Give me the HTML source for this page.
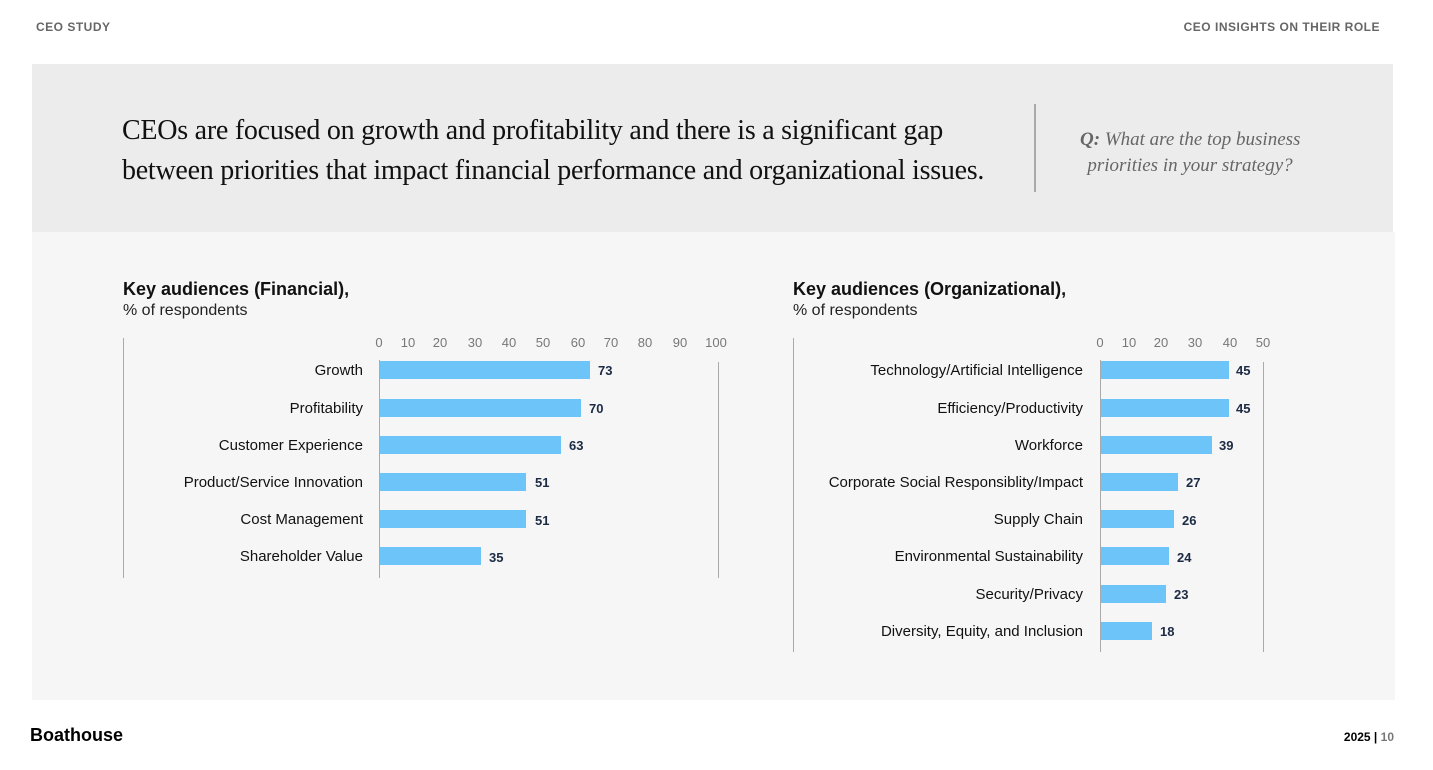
<!DOCTYPE html>
<html><head><meta charset="utf-8"><style>
*{margin:0;padding:0;box-sizing:border-box}
body{width:1433px;height:770px;background:#fff;position:relative;overflow:hidden;font-family:"Liberation Sans",sans-serif;color:#111}
.a{position:absolute;white-space:nowrap}
.hdr{font-size:12px;font-weight:bold;color:#666;letter-spacing:0.5px;top:20px}
.serif{font-family:"Liberation Serif",serif}
.lab{font-size:15px;color:#111;text-align:right}
.tick{font-size:13px;color:#777;transform:translateX(-50%)}
.bar{position:absolute;height:18px;background:#6cc4f8}
.val{font-size:13px;font-weight:bold;color:#1c2a44}
.vl{position:absolute;width:1px;background:#aaa}
</style></head><body>
<div class="a hdr" style="left:36px">CEO STUDY</div>
<div class="a hdr" style="right:53px">CEO INSIGHTS ON THEIR ROLE</div>
<div class="a" style="left:32px;top:64px;width:1361px;height:168px;background:#ececec"></div>
<div class="a" style="left:32px;top:232px;width:1363px;height:468px;background:#f6f6f6"></div>
<div class="a serif" style="left:122px;top:111px;font-size:28px;line-height:40px;color:#111;letter-spacing:-0.25px">CEOs are focused on growth and profitability and there is a significant gap<br>between priorities that impact financial performance and organizational issues.</div>
<div class="vl" style="left:1034px;top:104px;height:88px;width:2px;background:#aaa"></div>
<div class="a serif" style="left:1080px;top:127px;font-size:19px;line-height:26px;color:#666;font-style:italic;text-align:center;width:220px"><b>Q:</b> What are the top business<br>priorities in your strategy?</div>

<div class="a" style="left:123px;top:279px;font-size:18px;font-weight:bold">Key audiences (Financial),</div>
<div class="a" style="left:123px;top:302px;font-size:16px;color:#222">% of respondents</div>
<div class="a" style="left:793px;top:279px;font-size:18px;font-weight:bold">Key audiences (Organizational),</div>
<div class="a" style="left:793px;top:302px;font-size:16px;color:#222">% of respondents</div>

<div class="vl" style="left:123px;top:338px;height:240px"></div>
<div class="vl" style="left:379px;top:360px;height:218px"></div>
<div class="vl" style="left:718px;top:362px;height:216px"></div>
<div class="vl" style="left:793px;top:338px;height:314px"></div>
<div class="vl" style="left:1100px;top:360px;height:292px"></div>
<div class="vl" style="left:1263px;top:362px;height:290px"></div>

<div class="a tick" style="left:379px;top:335px">0</div>
<div class="a tick" style="left:408px;top:335px">10</div>
<div class="a tick" style="left:440px;top:335px">20</div>
<div class="a tick" style="left:475px;top:335px">30</div>
<div class="a tick" style="left:509px;top:335px">40</div>
<div class="a tick" style="left:543px;top:335px">50</div>
<div class="a tick" style="left:578px;top:335px">60</div>
<div class="a tick" style="left:611px;top:335px">70</div>
<div class="a tick" style="left:645px;top:335px">80</div>
<div class="a tick" style="left:680px;top:335px">90</div>
<div class="a tick" style="left:716px;top:335px">100</div>

<div class="a tick" style="left:1100px;top:335px">0</div>
<div class="a tick" style="left:1129px;top:335px">10</div>
<div class="a tick" style="left:1161px;top:335px">20</div>
<div class="a tick" style="left:1195px;top:335px">30</div>
<div class="a tick" style="left:1230px;top:335px">40</div>
<div class="a tick" style="left:1263px;top:335px">50</div>

<!-- left rows -->
<div class="a lab" style="right:1070px;top:362px">Growth</div><div class="bar" style="left:380px;top:361px;width:210px"></div><div class="a val" style="left:598px;top:363px">73</div>
<div class="a lab" style="right:1070px;top:400px">Profitability</div><div class="bar" style="left:380px;top:399px;width:201px"></div><div class="a val" style="left:589px;top:401px">70</div>
<div class="a lab" style="right:1070px;top:437px">Customer Experience</div><div class="bar" style="left:380px;top:436px;width:181px"></div><div class="a val" style="left:569px;top:438px">63</div>
<div class="a lab" style="right:1070px;top:474px">Product/Service Innovation</div><div class="bar" style="left:380px;top:473px;width:146px"></div><div class="a val" style="left:535px;top:475px">51</div>
<div class="a lab" style="right:1070px;top:511px">Cost Management</div><div class="bar" style="left:380px;top:510px;width:146px"></div><div class="a val" style="left:535px;top:513px">51</div>
<div class="a lab" style="right:1070px;top:548px">Shareholder Value</div><div class="bar" style="left:380px;top:547px;width:101px"></div><div class="a val" style="left:489px;top:550px">35</div>

<!-- right rows -->
<div class="a lab" style="right:350px;top:362px">Technology/Artificial Intelligence</div><div class="bar" style="left:1101px;top:361px;width:128px"></div><div class="a val" style="left:1236px;top:363px">45</div>
<div class="a lab" style="right:350px;top:400px">Efficiency/Productivity</div><div class="bar" style="left:1101px;top:399px;width:128px"></div><div class="a val" style="left:1236px;top:401px">45</div>
<div class="a lab" style="right:350px;top:437px">Workforce</div><div class="bar" style="left:1101px;top:436px;width:111px"></div><div class="a val" style="left:1219px;top:438px">39</div>
<div class="a lab" style="right:350px;top:474px">Corporate Social Responsiblity/Impact</div><div class="bar" style="left:1101px;top:473px;width:77px"></div><div class="a val" style="left:1186px;top:475px">27</div>
<div class="a lab" style="right:350px;top:511px">Supply Chain</div><div class="bar" style="left:1101px;top:510px;width:73px"></div><div class="a val" style="left:1182px;top:513px">26</div>
<div class="a lab" style="right:350px;top:548px">Environmental Sustainability</div><div class="bar" style="left:1101px;top:547px;width:68px"></div><div class="a val" style="left:1177px;top:550px">24</div>
<div class="a lab" style="right:350px;top:586px">Security/Privacy</div><div class="bar" style="left:1101px;top:585px;width:65px"></div><div class="a val" style="left:1174px;top:587px">23</div>
<div class="a lab" style="right:350px;top:623px">Diversity, Equity, and Inclusion</div><div class="bar" style="left:1101px;top:622px;width:51px"></div><div class="a val" style="left:1160px;top:624px">18</div>

<div class="a" style="left:30px;top:725px;font-size:18px;font-weight:bold;color:#000">Boathouse</div>
<div class="a" style="right:39px;top:730px;font-size:12px;font-weight:bold;color:#000">2025 | <span style="color:#777">10</span></div>
</body></html>
